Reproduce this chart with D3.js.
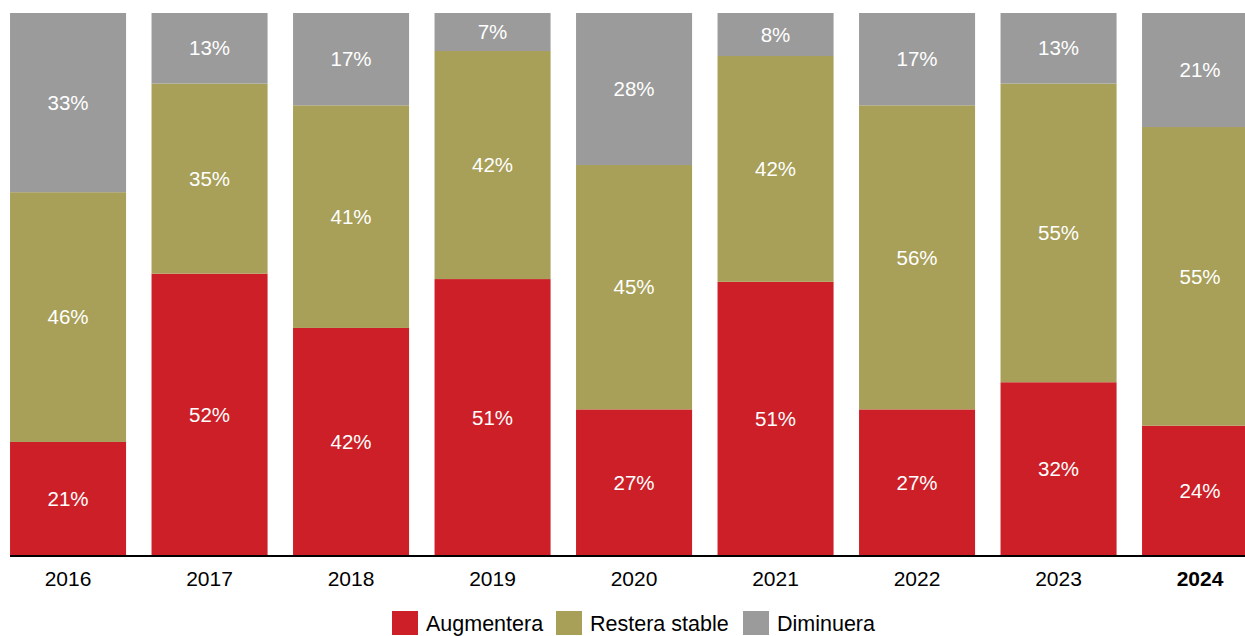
<!DOCTYPE html>
<html>
<head>
<meta charset="utf-8">
<script src="https://cdn.jsdelivr.net/npm/d3@7"></script>
<style>
  html, body { margin: 0; padding: 0; background: #fff; overflow: hidden; }
  svg { display: block; font-family: "Liberation Sans", Arial, sans-serif; }
</style>
</head>
<body>
<svg id="chart" width="1245" height="636"></svg>
<script>
// Survey answers per year (percent of respondents)
const years = ["2016", "2017", "2018", "2019", "2020", "2021", "2022", "2023", "2024"];
const augmentera = [21, 52, 42, 51, 27, 51, 27, 32, 24];
const resteraStable = [46, 35, 41, 42, 45, 42, 56, 55, 55];
const diminuera = [33, 13, 17, 7, 28, 8, 17, 13, 21];
const seriesNames = ["Augmentera", "Restera stable", "Diminuera"];
const seriesColors = ["#cd1f27", "#a89f58", "#9b9b9b"];
const highlightYear = "2024";

const svg = d3.select("#chart");
const W = 1245, H = 636;
const plotTop = 13, plotBase = 556;

const rows = years.map((y, i) => ({
  year: y,
  "Augmentera": augmentera[i],
  "Restera stable": resteraStable[i],
  "Diminuera": diminuera[i]
}));

// Each bar is normalised to its own total so that it fills the full height
const stacked = d3.stack().keys(seriesNames).offset(d3.stackOffsetExpand)(rows);

const x = d3.scaleBand()
  .domain(years)
  .range([-2.7, 1270.8])
  .paddingInner(0.18)
  .paddingOuter(0.09);

const y = d3.scaleLinear().domain([0, 1]).range([plotBase, plotTop]);

const layers = svg.append("g").selectAll("g")
  .data(stacked)
  .join("g")
  .attr("fill", (d, i) => seriesColors[i]);

layers.selectAll("rect")
  .data(d => d)
  .join("rect")
  .attr("x", d => x(d.data.year))
  .attr("width", x.bandwidth())
  .attr("y", d => y(d[1]))
  .attr("height", d => y(d[0]) - y(d[1]));

// Value labels centred in each segment
stacked.forEach(layer => {
  svg.append("g").selectAll("text")
    .data(layer)
    .join("text")
    .attr("x", d => x(d.data.year) + x.bandwidth() / 2)
    .attr("y", d => (y(d[0]) + y(d[1])) / 2)
    .attr("dy", "0.35em")
    .attr("text-anchor", "middle")
    .attr("fill", "#ffffff")
    .attr("font-size", 20.5)
    .text(d => d.data[layer.key] + "%");
});

// Category axis
const axis = svg.append("g")
  .attr("transform", `translate(0,${plotBase})`)
  .call(d3.axisBottom(x).tickSize(0).tickPadding(15));
axis.select(".domain").remove();
axis.selectAll("text")
  .attr("font-size", 21)
  .attr("font-family", "\"Liberation Sans\", Arial, sans-serif")
  .attr("fill", "#000")
  .attr("font-weight", d => d === highlightYear ? "bold" : "normal");
svg.append("line")
  .attr("x1", 10).attr("x2", W)
  .attr("y1", plotBase).attr("y2", plotBase)
  .attr("stroke", "#000").attr("stroke-width", 2);

// Legend
const legendX = [392, 556, 743];
const legend = svg.append("g").selectAll("g")
  .data(seriesNames)
  .join("g")
  .attr("transform", (d, i) => `translate(${legendX[i]},611)`);
legend.append("rect")
  .attr("width", 26).attr("height", 24)
  .attr("fill", (d, i) => seriesColors[i]);
legend.append("text")
  .attr("x", 34).attr("y", 12)
  .attr("dy", "0.35em")
  .attr("font-size", 21.5)
  .attr("fill", "#000")
  .text(d => d);
</script>
</body>
</html>
